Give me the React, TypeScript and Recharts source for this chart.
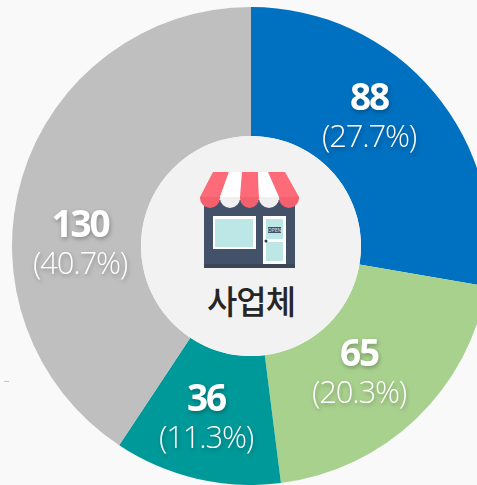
import React from "react";
import { PieChart, Pie, Cell } from "recharts";

const categories = ["A", "B", "C", "D"];
const countLabels = [88, 65, 36, 130];
const percentValues = [27.7, 20.3, 11.3, 40.7];
const percentLabels = ["(27.7%)", "(20.3%)", "(11.3%)", "(40.7%)"];
const centerTitle = ["사업체"];
const signText = ["OPEN"];
const colors = ["#0070c0", "#a9d18e", "#009999", "#bfbfbf"];

const data = categories.map((name, i) => ({ name, value: percentValues[i] }));
const centerData = [{ name: "center", value: 1 }];

const CX = 251;
const CY = 246;
const labelOffsets = [
  { dx: 118, dy: -131 },
  { dx: 108, dy: 125 },
  { dx: -45, dy: 170 },
  { dx: -171, dy: -4 },
];

const shadow = { filter: "drop-shadow(1px 2px 2px rgba(0,0,0,0.28))" };

const renderLabel = (props: any) => {
  const i = props.index;
  const x = CX + labelOffsets[i].dx;
  const y = CY + labelOffsets[i].dy;
  return (
    <g key={i} style={shadow}>
      <text x={x} y={y - 5} textAnchor="middle" fill="#fff" fontFamily="'Open Sans'" fontWeight={700} fontSize={37} letterSpacing={-2.2}>
        {countLabels[i]}
      </text>
      <text x={x} y={y + 32} textAnchor="middle" fill="#fff" fontFamily="'Open Sans'" fontWeight={300} fontSize={31} letterSpacing={-1.2}>
        {percentLabels[i]}
      </text>
    </g>
  );
};

const stripeTop = [213, 229, 242, 258, 268, 285];
const stripeBottom = [200, 220, 240, 259, 279, 299];

const StoreIcon = () => (
  <g>
    <rect x={204} y={200} width={91} height={68} fill="#435269" />
    <rect x={204} y={264} width={91} height={4} fill="#3a4655" />
    <rect x={213} y={216} width={43} height={33} fill="#fff" />
    <rect x={215} y={219} width={38} height={28} fill="#bde6e6" />
    <rect x={263} y={216} width={23} height={48} fill="#fff" />
    <rect x={266} y={219} width={17} height={20} fill="#bde6e6" />
    <rect x={266} y={242} width={17} height={19} fill="#bde6e6" />
    <rect x={268} y={227} width={13} height={6} fill="#435269" />
    <text x={274.5} y={232} textAnchor="middle" fontSize={5} fill="#dfe6ea" fontFamily="'Open Sans'">{signText[0]}</text>
    <circle cx={266} cy={241} r={1.5} fill="#2f3a48" />
    {stripeTop.slice(0, 5).map((t, i) => {
      const red = i % 2 === 0;
      const l = stripeBottom[i];
      const r = stripeBottom[i + 1];
      return (
        <g key={i}>
          <path d={`M${t} 172 L${stripeTop[i + 1]} 172 L${r} 197 L${l} 197 Z`} fill={red ? "#fd6b78" : "#ffffff"} />
          <path d={`M${l} 197 L${r} 197 L${r} 198 A${(r - l) / 2} 10 0 0 1 ${l} 198 Z`} fill={red ? "#f5606e" : "#f0f0f0"} />
        </g>
      );
    })}
  </g>
);

export default function App() {
  return (
    <div style={{ position: "absolute", left: 0, top: 0, width: 477, height: 485, overflow: "hidden", background: "#f9f9f9" }}>
      <PieChart width={477} height={485} margin={{ top: 0, right: 0, bottom: 0, left: 0 }}>
        <Pie
          data={data}
          dataKey="value"
          cx={CX}
          cy={CY}
          innerRadius={110}
          outerRadius={239}
          startAngle={90}
          endAngle={-270}
          stroke="none"
          label={renderLabel}
          labelLine={false}
          isAnimationActive={false}
        >
          {data.map((d, i) => (
            <Cell key={d.name} fill={colors[i]} />
          ))}
        </Pie>
        <Pie
          data={centerData}
          dataKey="value"
          cx={CX}
          cy={CY}
          innerRadius={0}
          outerRadius={110}
          fill="#f2f2f2"
          stroke="none"
          isAnimationActive={false}
        />
        <rect x={4} y={381} width={5} height={1} fill="#c4c4c4" />
      </PieChart>
      <svg width={477} height={485} style={{ position: "absolute", left: 0, top: 0, pointerEvents: "none" }}>
        <StoreIcon />
        <text x={251} y={314} textAnchor="middle" fill="#262626" fontFamily="'Noto Sans CJK KR'" fontWeight={500} fontSize={33} letterSpacing={-1}>
          {centerTitle[0]}
        </text>
      </svg>
    </div>
  );
}
